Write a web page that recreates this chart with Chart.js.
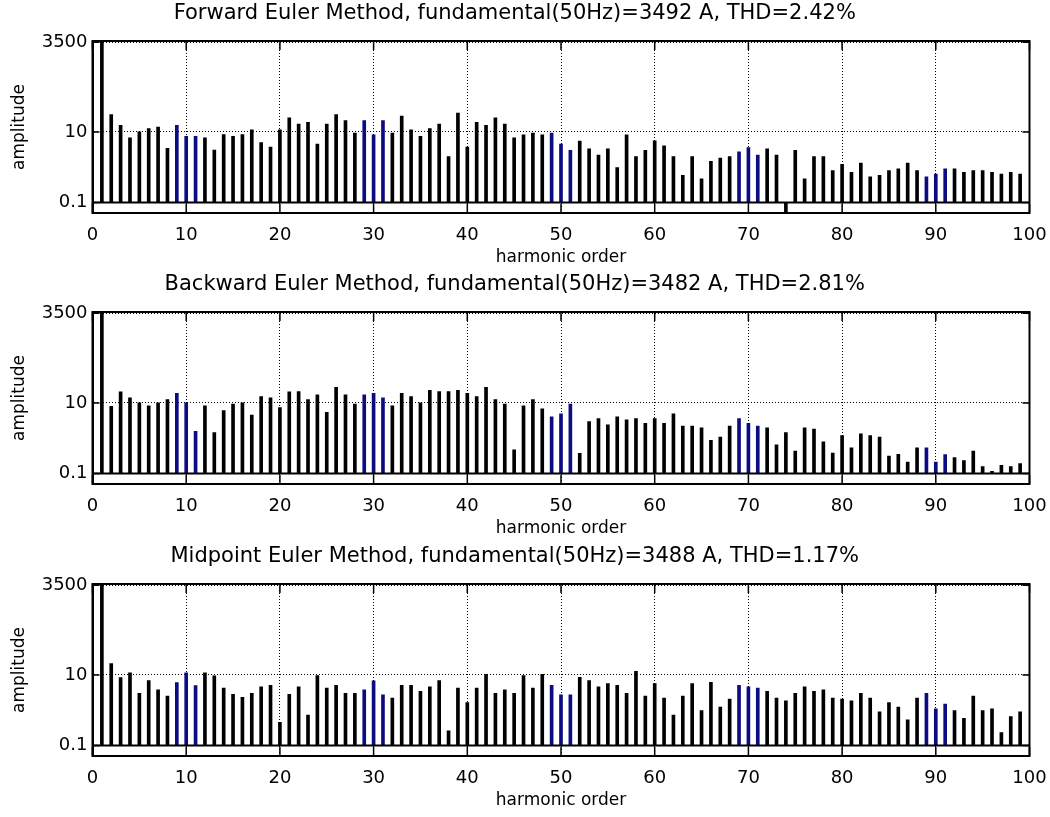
<!DOCTYPE html>
<html>
<head>
<meta charset="utf-8">
<title>Harmonic spectrum</title>
<script src="https://cdn.jsdelivr.net/npm/chart.js@4.4.1/dist/chart.umd.min.js"></script>
<style>
    body { margin: 0; background: #fff; }
    canvas { position: absolute; left: 0; }
</style>
</head>
<body>
<canvas id="forwardChart" width="1050" height="271" style="top:0px"></canvas>
<canvas id="backwardChart" width="1050" height="271" style="top:271px"></canvas>
<canvas id="midpointChart" width="1050" height="271" style="top:543px"></canvas>
<script>
const titles = [
    "Forward Euler Method, fundamental(50Hz)=3492 A, THD=2.42%",
    "Backward Euler Method, fundamental(50Hz)=3482 A, THD=2.81%",
    "Midpoint Euler Method, fundamental(50Hz)=3488 A, THD=1.17%"
];
const orders = Array.from({ length: 99 }, (_, i) => i + 1);
const blueOrders = [9, 10, 11, 29, 30, 31, 49, 50, 51, 69, 70, 71, 89, 90, 91];
const xTicks = [0, 10, 20, 30, 40, 50, 60, 70, 80, 90, 100];
const yTicks = [0.1, 10, 3500];

const forwardEuler = [
    3492, 30.8, 15.4, 6.8, 10, 12.4, 13.8, 3.4, 15.4, 7.55,
    7.55, 6.8, 3.05, 8.4, 7.55, 8.4, 11.4, 5.0, 3.7, 11.4,
    25.3, 16.8, 18.7, 4.5, 16.8, 30.8, 20.9, 9.2, 20.9, 8.2,
    20.9, 9.2, 28.2, 11.4, 7.55, 12.4, 16.8, 2.0, 34.3, 3.7,
    18.7, 15.4, 25.3, 16.8, 6.8, 8.2, 9.2, 8.2, 9.2, 4.5,
    3.0, 5.5, 3.3, 2.2, 3.3, 0.97, 8.2, 1.98, 3.0, 5.6,
    4.0, 2.0, 0.59, 2.0, 0.47, 1.46, 1.8, 2.0, 2.7, 3.6,
    2.2, 3.3, 2.2, 0.02, 3.0, 0.47, 2.0, 2.0, 0.8, 1.2,
    0.71, 1.31, 0.53, 0.59, 0.8, 0.89, 1.31, 0.8, 0.53, 0.64,
    0.89, 0.89, 0.71, 0.8, 0.8, 0.71, 0.64, 0.71, 0.64
];
const backwardEuler = [
    3482, 8.05, 20.5, 13.9, 10, 8.2, 10, 12.4, 18.8, 10,
    1.57, 8.2, 1.44, 6.1, 9.2, 10, 4.5, 15.1, 13.9, 7.4,
    20.5, 21, 12.4, 16.9, 5.4, 27.8, 16.9, 9.3, 16.9, 18.8,
    13.9, 8.2, 18.8, 15.1, 10, 22.9, 21, 21, 22.9, 18.8,
    15.1, 27.8, 12.4, 9.2, 0.47, 8.2, 12.4, 6.8, 4.0, 4.9,
    9.2, 0.37, 2.96, 3.6, 2.38, 4.0, 3.3, 3.6, 2.65, 3.6,
    2.65, 4.9, 2.2, 2.2, 1.96, 0.87, 1.07, 2.2, 3.6, 2.65,
    2.2, 1.96, 0.65, 1.44, 0.43, 1.96, 1.8, 0.78, 0.38, 1.19,
    0.53, 1.32, 1.19, 1.07, 0.31, 0.35, 0.21, 0.53, 0.53, 0.21,
    0.34, 0.28, 0.23, 0.43, 0.155, 0.114, 0.17, 0.155, 0.19
];
const midpointEuler = [
    3488, 20.9, 8.4, 11.4, 3.0, 6.9, 3.76, 2.5, 6.1, 11.4,
    5.0, 11.4, 9.4, 4.2, 2.8, 2.3, 3.0, 4.6, 5.1, 0.45,
    2.8, 4.6, 0.72, 9.6, 4.2, 5.1, 3.0, 3.0, 3.76, 6.8,
    2.7, 2.2, 5.1, 5.1, 3.4, 4.6, 6.9, 0.26, 4.2, 1.65,
    4.2, 10.4, 3.0, 3.76, 3.0, 9.6, 4.2, 10.4, 5.1, 2.7,
    2.7, 8.6, 6.9, 4.6, 5.7, 5.1, 3.0, 12.7, 2.5, 5.7,
    2.2, 0.72, 2.5, 5.7, 0.98, 6.2, 1.22, 2.05, 5.1, 4.6,
    4.2, 3.4, 2.2, 1.84, 3.0, 4.6, 3.4, 3.76, 2.2, 2.05,
    1.84, 3.0, 2.2, 0.9, 1.65, 1.22, 0.53, 2.2, 3.0, 1.09,
    1.48, 0.98, 0.59, 2.5, 0.98, 1.09, 0.23, 0.66, 0.9
];

Chart.defaults.font.family = "'DejaVu Sans'";
Chart.defaults.color = "#000";

// box, bar baseline at 0.1 and inward ticks (matlab look)
const matlabAxes = {
    id: "matlabAxes",
    afterDatasetsDraw: function (chart) {
        const ctx = chart.ctx;
        const area = chart.chartArea;
        const xs = chart.scales.x;
        const ys = chart.scales.y;

        ctx.save();
        ctx.strokeStyle = "#000";
        ctx.lineWidth = 2;
        let base = ys.getPixelForValue(0.1);
        ctx.beginPath();
        ctx.moveTo(area.left, base);
        ctx.lineTo(area.right, base);
        ctx.stroke();
        ctx.strokeRect(area.left, area.top, area.right - area.left, area.bottom - area.top);

        ctx.lineWidth = 1.5;
        ctx.beginPath();
        xs.ticks.forEach(function (t) {
            let px = xs.getPixelForValue(t.value);
            ctx.moveTo(px, area.bottom);
            ctx.lineTo(px, area.bottom - 9);
            ctx.moveTo(px, area.top);
            ctx.lineTo(px, area.top + 9);
        });
        ys.ticks.forEach(function (t) {
            let py = ys.getPixelForValue(t.value);
            ctx.moveTo(area.left, py);
            ctx.lineTo(area.left + 7, py);
            ctx.moveTo(area.right, py);
            ctx.lineTo(area.right - 7, py);
        });
        ctx.stroke();
        ctx.restore();
    }
};

function makeChart(id, title, values) {
    const points = orders.map(function (o, i) {
        return { x: o, y: values[i] };
    });
    const colors = orders.map(function (o) {
        return blueOrders.includes(o) ? "#0c0c80" : "#000000";
    });

    new Chart(document.getElementById(id), {
        type: "bar",
        data: {
            datasets: [{
                data: points,
                backgroundColor: colors,
                borderWidth: 0,
                barThickness: 3,
                base: 0.1
            }]
        },
        options: {
            responsive: false,
            animation: false,
            layout: { padding: { left: 0, right: 20.5, top: 0, bottom: 0 } },
            plugins: {
                legend: { display: false },
                tooltip: { enabled: false },
                title: {
                    display: true,
                    text: title,
                    color: "#000",
                    font: { size: 21, weight: "normal", lineHeight: 1 },
                    padding: { top: 3, bottom: 17 }
                }
            },
            scales: {
                x: {
                    type: "linear",
                    min: 0,
                    max: 100,
                    offset: false,
                    afterBuildTicks: function (s) {
                        s.ticks = xTicks.map(function (v) { return { value: v }; });
                    },
                    afterFit: function (s) {
                        s.height = 58;
                        s.paddingLeft = 0;
                        s.paddingRight = 0;
                    },
                    ticks: { padding: 12, maxRotation: 0, autoSkip: false, font: { size: 18 } },
                    grid: { offset: false, color: "#000", lineWidth: 1, drawTicks: false },
                    border: { color: "#000", width: 2, dash: [1, 2] },
                    title: {
                        display: true,
                        text: "harmonic order",
                        font: { size: 17, lineHeight: 1 },
                        padding: { top: 0, bottom: 4.5 }
                    }
                },
                y: {
                    type: "logarithmic",
                    min: 0.05,
                    max: 3800,
                    afterBuildTicks: function (s) {
                        s.ticks = yTicks.map(function (v) { return { value: v }; });
                    },
                    afterFit: function (s) {
                        s.width = 92.5;
                        s.paddingTop = 0;
                        s.paddingBottom = 0;
                    },
                    ticks: {
                        padding: 5,
                        font: { size: 18 },
                        callback: function (v) { return String(v); }
                    },
                    grid: { color: "#000", lineWidth: 1, drawTicks: false },
                    border: { color: "#000", width: 2, dash: [1, 2] },
                    title: {
                        display: true,
                        text: "amplitude",
                        font: { size: 17, lineHeight: 1 },
                        padding: { top: 11, bottom: 0 }
                    }
                }
            }
        },
        plugins: [matlabAxes]
    });
}

makeChart("forwardChart", titles[0], forwardEuler);
makeChart("backwardChart", titles[1], backwardEuler);
makeChart("midpointChart", titles[2], midpointEuler);
</script>
</body>
</html>
